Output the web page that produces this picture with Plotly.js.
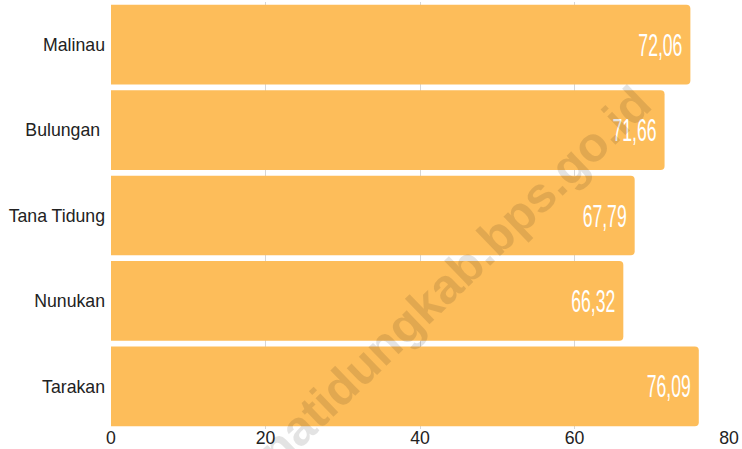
<!DOCTYPE html>
<html>
<head>
<meta charset="utf-8">
<script src="https://cdn.plot.ly/plotly-3.0.1.min.js"></script>
<style>html,body{margin:0;padding:0;background:#fff;}#chart{width:742px;height:449px;}</style>
</head>
<body>
<div id="chart"></div>
<script>
var categories = ["Malinau", "Bulungan ", "Tana Tidung", "Nunukan", "Tarakan"];
var barValues = [75.0, 71.66, 67.79, 66.32, 76.09];
var valueLabels = ["72,06", "71,66", "67,79", "66,32", "76,09"];
var xTicks = [0, 20, 40, 60, 80];
var watermark = "tanatidungkab.bps.go.id";

var trace = {
  type: "bar",
  orientation: "h",
  y: categories,
  x: barValues,
  text: valueLabels,
  textposition: "inside",
  insidetextanchor: "end",
  textangle: 0,
  constraintext: "none",
  cliponaxis: false,
  textfont: {family: "Liberation Sans, Arial, sans-serif", size: 32, color: "#ffffff"},
  marker: {color: "#fdbd5a", cornerradius: 4},
  hoverinfo: "none"
};

var layout = {
  width: 742,
  height: 449,
  margin: {l: 110.5, r: 12.5, t: 1.5, b: 20, pad: 0},
  paper_bgcolor: "#ffffff",
  plot_bgcolor: "#ffffff",
  bargap: 0.067,
  showlegend: false,
  font: {family: "Liberation Sans, Arial, sans-serif", color: "#222222", size: 17.7},
  xaxis: {
    range: [0, 80],
    tickvals: xTicks,
    ticktext: xTicks.map(String),
    showgrid: true,
    gridcolor: "#d6d6d6",
    gridwidth: 1,
    zeroline: false,
    showline: false,
    ticks: "",
    ticklabelstandoff: -4,
    tickfont: {size: 17.7, color: "#222222"},
    fixedrange: true
  },
  yaxis: {
    autorange: "reversed",
    showgrid: false,
    zeroline: false,
    showline: false,
    ticks: "",
    ticklabelstandoff: 5,
    tickfont: {size: 17.7, color: "#222222"},
    fixedrange: true
  },
  annotations: [{
    text: "<b>" + watermark + "</b>",
    xref: "paper", yref: "paper",
    x: 0.53, y: 0.32,
    xanchor: "center", yanchor: "middle",
    textangle: -44,
    showarrow: false,
    font: {family: "Liberation Sans, Arial, sans-serif", size: 49, color: "rgba(0,0,0,0.11)"}
  }]
};

Plotly.newPlot("chart", [trace], layout, {displayModeBar: false, staticPlot: true}).then(function () {
  // condense the value labels horizontally, keeping them right-aligned inside the bar ends
  var texts = document.querySelectorAll("#chart .bartext");
  texts.forEach(function (t) {
    var bb = t.getBBox();
    var right = bb.x + bb.width - 4;
    t.setAttribute("text-anchor", "end");
    t.setAttribute("x", right);
    t.setAttribute("textLength", bb.width * 0.55);
    t.setAttribute("lengthAdjust", "spacingAndGlyphs");
  });
});
</script>
</body>
</html>
